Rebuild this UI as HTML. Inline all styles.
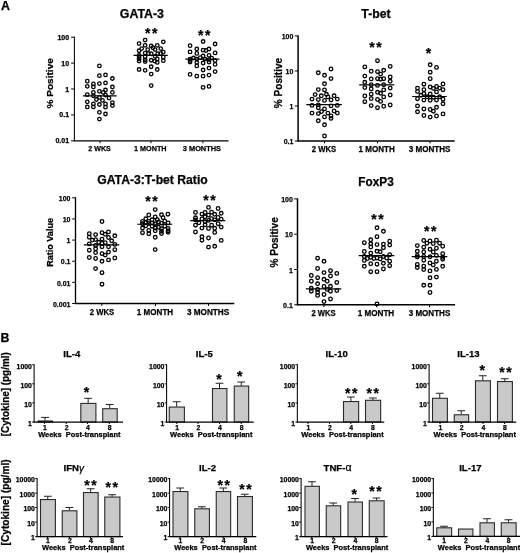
<!DOCTYPE html>
<html lang="en"><head><meta charset="utf-8"><title>Figure</title>
<style>
html,body{margin:0;padding:0;background:#fff;}
body{width:520px;height:553px;overflow:hidden;}
svg{display:block;}
svg text{font-family:"Liberation Sans",sans-serif;fill:#000;stroke:#000;stroke-width:0.25px;}
svg circle{fill:none;stroke:#000;stroke-width:1.3;}
</style></head><body>
<svg width="520" height="553" viewBox="0 0 520 553">
<rect width="520" height="553" fill="#ffffff"/>
<line x1="74.4" y1="36.7" x2="74.4" y2="141.3" stroke="#000" stroke-width="1.05"/>
<line x1="73.9" y1="140.8" x2="228.5" y2="140.8" stroke="#000" stroke-width="1.15"/>
<line x1="71.1" y1="37.2" x2="74.4" y2="37.2" stroke="#000" stroke-width="1.0"/>
<text x="69.1" y="39.7" font-size="7" text-anchor="end" font-weight="bold">100</text>
<line x1="71.1" y1="63.1" x2="74.4" y2="63.1" stroke="#000" stroke-width="1.0"/>
<text x="69.1" y="65.6" font-size="7" text-anchor="end" font-weight="bold">10</text>
<line x1="71.1" y1="89.0" x2="74.4" y2="89.0" stroke="#000" stroke-width="1.0"/>
<text x="69.1" y="91.5" font-size="7" text-anchor="end" font-weight="bold">1</text>
<line x1="71.1" y1="114.9" x2="74.4" y2="114.9" stroke="#000" stroke-width="1.0"/>
<text x="69.1" y="117.4" font-size="7" text-anchor="end" font-weight="bold">0.1</text>
<line x1="71.1" y1="140.8" x2="74.4" y2="140.8" stroke="#000" stroke-width="1.0"/>
<text x="69.1" y="143.3" font-size="7" text-anchor="end" font-weight="bold">0.01</text>
<line x1="100.1" y1="140.8" x2="100.1" y2="143.2" stroke="#000" stroke-width="1.0"/>
<text x="99.6" y="150.9" font-size="7.9" text-anchor="middle" font-weight="bold" textLength="22.5" lengthAdjust="spacingAndGlyphs">2 WKS</text>
<line x1="151" y1="140.8" x2="151" y2="143.2" stroke="#000" stroke-width="1.0"/>
<text x="150.3" y="150.9" font-size="7.9" text-anchor="middle" font-weight="bold" textLength="32.6" lengthAdjust="spacingAndGlyphs">1 MONTH</text>
<line x1="202.9" y1="140.8" x2="202.9" y2="143.2" stroke="#000" stroke-width="1.0"/>
<text x="201.9" y="150.9" font-size="7.9" text-anchor="middle" font-weight="bold" textLength="38.1" lengthAdjust="spacingAndGlyphs">3 MONTHS</text>
<text x="141.9" y="18.3" font-size="12" text-anchor="middle" font-weight="bold" textLength="44.2" lengthAdjust="spacingAndGlyphs">GATA-3</text>
<text x="53.1" y="83.3" font-size="9.8" text-anchor="middle" font-weight="bold" transform="rotate(-90 53.1 83.3)" textLength="50.3" lengthAdjust="spacingAndGlyphs">% Positive</text>
<text x="152.1" y="38.3" font-size="14" text-anchor="middle" font-weight="bold" letter-spacing="1.6">**</text>
<text x="205.1" y="40.4" font-size="14" text-anchor="middle" font-weight="bold" letter-spacing="1.6">**</text>
<line x1="82.9" y1="95.8" x2="116.7" y2="95.8" stroke="#000" stroke-width="1.15"/>
<line x1="133.5" y1="55.3" x2="167.8" y2="55.3" stroke="#000" stroke-width="1.15"/>
<line x1="185.3" y1="59.1" x2="219.4" y2="59.1" stroke="#000" stroke-width="1.15"/>
<g style="stroke-width:1.1;stroke:#1c1c1c">
<circle cx="99.4" cy="65.9" r="1.75"/>
<circle cx="99.4" cy="75.7" r="1.75"/>
<circle cx="105.5" cy="74.9" r="1.75"/>
<circle cx="112.4" cy="78.5" r="1.75"/>
<circle cx="87.3" cy="81.2" r="1.75"/>
<circle cx="93.4" cy="83.9" r="1.75"/>
<circle cx="99.4" cy="83.6" r="1.75"/>
<circle cx="105.5" cy="82.9" r="1.75"/>
<circle cx="87.3" cy="86.3" r="1.75"/>
<circle cx="93.4" cy="86.9" r="1.75"/>
<circle cx="112.4" cy="87" r="1.75"/>
<circle cx="105.5" cy="90" r="1.75"/>
<circle cx="99.4" cy="91.3" r="1.75"/>
<circle cx="93.4" cy="92.4" r="1.75"/>
<circle cx="103.2" cy="92.4" r="1.75"/>
<circle cx="112.4" cy="92.4" r="1.75"/>
<circle cx="87.3" cy="94.7" r="1.75"/>
<circle cx="93.4" cy="95.8" r="1.75"/>
<circle cx="105.5" cy="95" r="1.75"/>
<circle cx="99.4" cy="97.4" r="1.75"/>
<circle cx="109" cy="98.1" r="1.75"/>
<circle cx="96.4" cy="99.5" r="1.75"/>
<circle cx="102.5" cy="100.4" r="1.75"/>
<circle cx="87.3" cy="101.8" r="1.75"/>
<circle cx="112.4" cy="102.6" r="1.75"/>
<circle cx="93.4" cy="103.9" r="1.75"/>
<circle cx="105.5" cy="103.9" r="1.75"/>
<circle cx="99.4" cy="104.5" r="1.75"/>
<circle cx="87.3" cy="106.9" r="1.75"/>
<circle cx="93.4" cy="106.9" r="1.75"/>
<circle cx="105.5" cy="107.2" r="1.75"/>
<circle cx="112.4" cy="105.6" r="1.75"/>
<circle cx="99.4" cy="112.3" r="1.75"/>
<circle cx="105.5" cy="114" r="1.75"/>
<circle cx="99.4" cy="119.1" r="1.75"/>
<circle cx="145.14" cy="40.09" r="1.75"/>
<circle cx="139.08" cy="43.55" r="1.75"/>
<circle cx="163.3" cy="41.82" r="1.75"/>
<circle cx="145.14" cy="45.28" r="1.75"/>
<circle cx="151.19" cy="45.97" r="1.75"/>
<circle cx="157.25" cy="45.28" r="1.75"/>
<circle cx="141.68" cy="48.57" r="1.75"/>
<circle cx="152.92" cy="47.7" r="1.75"/>
<circle cx="160.71" cy="48.57" r="1.75"/>
<circle cx="147.73" cy="49.6" r="1.75"/>
<circle cx="155.09" cy="49.6" r="1.75"/>
<circle cx="139.08" cy="50.73" r="1.75"/>
<circle cx="163.3" cy="52.03" r="1.75"/>
<circle cx="145.14" cy="53.06" r="1.75"/>
<circle cx="148.17" cy="53.58" r="1.75"/>
<circle cx="151.19" cy="53.76" r="1.75"/>
<circle cx="157.68" cy="53.76" r="1.75"/>
<circle cx="160.71" cy="53.58" r="1.75"/>
<circle cx="139.08" cy="55.49" r="1.75"/>
<circle cx="139.08" cy="57.22" r="1.75"/>
<circle cx="139.08" cy="58.95" r="1.75"/>
<circle cx="139.08" cy="61.11" r="1.75"/>
<circle cx="145.14" cy="56.78" r="1.75"/>
<circle cx="145.14" cy="59.81" r="1.75"/>
<circle cx="145.14" cy="61.54" r="1.75"/>
<circle cx="151.19" cy="60.24" r="1.75"/>
<circle cx="155.09" cy="56.35" r="1.75"/>
<circle cx="157.25" cy="58.95" r="1.75"/>
<circle cx="157.25" cy="62.41" r="1.75"/>
<circle cx="163.3" cy="57.22" r="1.75"/>
<circle cx="163.3" cy="60.68" r="1.75"/>
<circle cx="154.65" cy="61.11" r="1.75"/>
<circle cx="151.19" cy="66.73" r="1.75"/>
<circle cx="139.08" cy="69.5" r="1.75"/>
<circle cx="145.14" cy="70.37" r="1.75"/>
<circle cx="157.25" cy="69.5" r="1.75"/>
<circle cx="151.19" cy="74.09" r="1.75"/>
<circle cx="151.2" cy="85.6" r="1.75"/>
<circle cx="203.1" cy="41.5" r="1.75"/>
<circle cx="215.1" cy="44" r="1.75"/>
<circle cx="190.1" cy="45.7" r="1.75"/>
<circle cx="196.8" cy="49" r="1.75"/>
<circle cx="203.1" cy="50.2" r="1.75"/>
<circle cx="206" cy="50.5" r="1.75"/>
<circle cx="209" cy="49" r="1.75"/>
<circle cx="190.1" cy="51.9" r="1.75"/>
<circle cx="215.1" cy="52.9" r="1.75"/>
<circle cx="196.8" cy="53.4" r="1.75"/>
<circle cx="209" cy="55.3" r="1.75"/>
<circle cx="203.1" cy="56" r="1.75"/>
<circle cx="193.5" cy="58" r="1.75"/>
<circle cx="200.2" cy="57.7" r="1.75"/>
<circle cx="211.7" cy="58.2" r="1.75"/>
<circle cx="190.1" cy="59.1" r="1.75"/>
<circle cx="190.1" cy="60.6" r="1.75"/>
<circle cx="190.1" cy="62" r="1.75"/>
<circle cx="196.8" cy="59.1" r="1.75"/>
<circle cx="205" cy="59.1" r="1.75"/>
<circle cx="209" cy="59.6" r="1.75"/>
<circle cx="215.1" cy="60.6" r="1.75"/>
<circle cx="196.8" cy="62.5" r="1.75"/>
<circle cx="203.1" cy="63" r="1.75"/>
<circle cx="209" cy="62" r="1.75"/>
<circle cx="215.1" cy="64.4" r="1.75"/>
<circle cx="196.8" cy="65.9" r="1.75"/>
<circle cx="209" cy="68.1" r="1.75"/>
<circle cx="203.1" cy="70" r="1.75"/>
<circle cx="215.1" cy="71.6" r="1.75"/>
<circle cx="190.1" cy="74.4" r="1.75"/>
<circle cx="196.8" cy="76.2" r="1.75"/>
<circle cx="203.1" cy="76.2" r="1.75"/>
<circle cx="209" cy="75.1" r="1.75"/>
<circle cx="203.1" cy="87.4" r="1.75"/>
<circle cx="209" cy="86.4" r="1.75"/>
</g>
<line x1="298.1" y1="35.4" x2="298.1" y2="141.5" stroke="#000" stroke-width="1.5"/>
<line x1="297.6" y1="141" x2="454.7" y2="141" stroke="#000" stroke-width="1.6"/>
<line x1="294.8" y1="35.9" x2="298.1" y2="35.9" stroke="#000" stroke-width="1.0"/>
<text x="293.4" y="39.0" font-size="8.1" text-anchor="end" font-weight="bold" textLength="11.67" lengthAdjust="spacingAndGlyphs">100</text>
<line x1="294.8" y1="70.93" x2="298.1" y2="70.93" stroke="#000" stroke-width="1.0"/>
<text x="293.4" y="74.03" font-size="8.1" text-anchor="end" font-weight="bold" textLength="7.78" lengthAdjust="spacingAndGlyphs">10</text>
<line x1="294.8" y1="105.97" x2="298.1" y2="105.97" stroke="#000" stroke-width="1.0"/>
<text x="293.4" y="109.07" font-size="8.1" text-anchor="end" font-weight="bold" textLength="3.89" lengthAdjust="spacingAndGlyphs">1</text>
<line x1="294.8" y1="141.0" x2="298.1" y2="141.0" stroke="#000" stroke-width="1.0"/>
<text x="293.4" y="144.1" font-size="8.1" text-anchor="end" font-weight="bold" textLength="9.73" lengthAdjust="spacingAndGlyphs">0.1</text>
<line x1="324.5" y1="141" x2="324.5" y2="143.4" stroke="#000" stroke-width="1.0"/>
<text x="323.9" y="151.6" font-size="8.8" text-anchor="middle" font-weight="bold" textLength="24.3" lengthAdjust="spacingAndGlyphs">2 WKS</text>
<line x1="377.5" y1="141" x2="377.5" y2="143.4" stroke="#000" stroke-width="1.0"/>
<text x="376.7" y="151.6" font-size="8.8" text-anchor="middle" font-weight="bold" textLength="36.3" lengthAdjust="spacingAndGlyphs">1 MONTH</text>
<line x1="430.1" y1="141" x2="430.1" y2="143.4" stroke="#000" stroke-width="1.0"/>
<text x="429.6" y="151.6" font-size="8.8" text-anchor="middle" font-weight="bold" textLength="41.8" lengthAdjust="spacingAndGlyphs">3 MONTHS</text>
<text x="376" y="18.3" font-size="12" text-anchor="middle" font-weight="bold" textLength="29.3" lengthAdjust="spacingAndGlyphs">T-bet</text>
<text x="281.8" y="83" font-size="10.1" text-anchor="middle" font-weight="bold" transform="rotate(-90 281.8 83)" textLength="50.3" lengthAdjust="spacingAndGlyphs">% Positive</text>
<text x="376.3" y="52.3" font-size="14" text-anchor="middle" font-weight="bold" letter-spacing="1.6">**</text>
<text x="429.3" y="57.6" font-size="14" text-anchor="middle" font-weight="bold" letter-spacing="1.6">*</text>
<line x1="306.25" y1="104.6" x2="341.8" y2="104.6" stroke="#000" stroke-width="1.15"/>
<line x1="359.2" y1="84.9" x2="394.3" y2="84.9" stroke="#000" stroke-width="1.15"/>
<line x1="412.2" y1="96.5" x2="446.8" y2="96.5" stroke="#000" stroke-width="1.15"/>
<g>
<circle cx="331" cy="69" r="1.8"/>
<circle cx="318.3" cy="72.8" r="1.8"/>
<circle cx="324.5" cy="75.3" r="1.8"/>
<circle cx="331" cy="78.6" r="1.8"/>
<circle cx="324.5" cy="83.8" r="1.8"/>
<circle cx="318.3" cy="89.6" r="1.8"/>
<circle cx="324.5" cy="89.9" r="1.8"/>
<circle cx="315.1" cy="94.6" r="1.8"/>
<circle cx="321.3" cy="95.8" r="1.8"/>
<circle cx="326.4" cy="94.3" r="1.8"/>
<circle cx="334.1" cy="95.8" r="1.8"/>
<circle cx="327.9" cy="96.9" r="1.8"/>
<circle cx="312" cy="99.1" r="1.8"/>
<circle cx="318.3" cy="99.6" r="1.8"/>
<circle cx="324.5" cy="100.4" r="1.8"/>
<circle cx="331" cy="99.9" r="1.8"/>
<circle cx="337.3" cy="99.1" r="1.8"/>
<circle cx="312" cy="105.4" r="1.8"/>
<circle cx="318.3" cy="104.9" r="1.8"/>
<circle cx="331" cy="105.9" r="1.8"/>
<circle cx="337.3" cy="105.4" r="1.8"/>
<circle cx="318.3" cy="107.8" r="1.8"/>
<circle cx="324.5" cy="108.9" r="1.8"/>
<circle cx="321.6" cy="111.6" r="1.8"/>
<circle cx="334.1" cy="111" r="1.8"/>
<circle cx="312" cy="113.1" r="1.8"/>
<circle cx="318.3" cy="113.6" r="1.8"/>
<circle cx="327.9" cy="113.1" r="1.8"/>
<circle cx="337.3" cy="113.1" r="1.8"/>
<circle cx="324.5" cy="116.9" r="1.8"/>
<circle cx="331" cy="116" r="1.8"/>
<circle cx="331" cy="118.4" r="1.8"/>
<circle cx="318.3" cy="120.8" r="1.8"/>
<circle cx="324.5" cy="124.8" r="1.8"/>
<circle cx="324.5" cy="136" r="1.8"/>
<circle cx="377.5" cy="60.7" r="1.8"/>
<circle cx="364.8" cy="66.9" r="1.8"/>
<circle cx="390.2" cy="66.4" r="1.8"/>
<circle cx="371.2" cy="71.25" r="1.8"/>
<circle cx="377.5" cy="71.7" r="1.8"/>
<circle cx="383.7" cy="70.3" r="1.8"/>
<circle cx="380.6" cy="74.1" r="1.8"/>
<circle cx="364.8" cy="76.1" r="1.8"/>
<circle cx="390.2" cy="77" r="1.8"/>
<circle cx="371.2" cy="78.9" r="1.8"/>
<circle cx="377.5" cy="78.7" r="1.8"/>
<circle cx="380.6" cy="79.2" r="1.8"/>
<circle cx="383.7" cy="78.7" r="1.8"/>
<circle cx="390.2" cy="81.3" r="1.8"/>
<circle cx="364.8" cy="82.3" r="1.8"/>
<circle cx="371.2" cy="84.7" r="1.8"/>
<circle cx="377.5" cy="85.4" r="1.8"/>
<circle cx="383.7" cy="84.7" r="1.8"/>
<circle cx="364.8" cy="87.6" r="1.8"/>
<circle cx="390.2" cy="88.1" r="1.8"/>
<circle cx="371.2" cy="88.9" r="1.8"/>
<circle cx="383.7" cy="89.9" r="1.8"/>
<circle cx="377.5" cy="92.3" r="1.8"/>
<circle cx="380.6" cy="93.3" r="1.8"/>
<circle cx="371.2" cy="94.2" r="1.8"/>
<circle cx="390.2" cy="95" r="1.8"/>
<circle cx="364.8" cy="96" r="1.8"/>
<circle cx="383.7" cy="96.9" r="1.8"/>
<circle cx="371.2" cy="98.6" r="1.8"/>
<circle cx="377.5" cy="99.5" r="1.8"/>
<circle cx="380.6" cy="101.4" r="1.8"/>
<circle cx="364.8" cy="101.7" r="1.8"/>
<circle cx="390.2" cy="105" r="1.8"/>
<circle cx="371.2" cy="105.6" r="1.8"/>
<circle cx="383.7" cy="106.25" r="1.8"/>
<circle cx="377.5" cy="107.7" r="1.8"/>
<circle cx="430.2" cy="64.8" r="1.8"/>
<circle cx="436.5" cy="67.4" r="1.8"/>
<circle cx="430.2" cy="72.2" r="1.8"/>
<circle cx="430.2" cy="78.7" r="1.8"/>
<circle cx="423.9" cy="84.2" r="1.8"/>
<circle cx="443" cy="84" r="1.8"/>
<circle cx="430.2" cy="87" r="1.8"/>
<circle cx="436.5" cy="86.5" r="1.8"/>
<circle cx="433.4" cy="88.4" r="1.8"/>
<circle cx="439.6" cy="88.1" r="1.8"/>
<circle cx="417.5" cy="88.1" r="1.8"/>
<circle cx="423.9" cy="89.7" r="1.8"/>
<circle cx="443" cy="89.7" r="1.8"/>
<circle cx="417.5" cy="91.5" r="1.8"/>
<circle cx="436.5" cy="91.9" r="1.8"/>
<circle cx="423.9" cy="93.6" r="1.8"/>
<circle cx="430.2" cy="93.9" r="1.8"/>
<circle cx="420.9" cy="95.3" r="1.8"/>
<circle cx="427.1" cy="96.8" r="1.8"/>
<circle cx="433.4" cy="97.2" r="1.8"/>
<circle cx="439.6" cy="96.8" r="1.8"/>
<circle cx="417.5" cy="98.7" r="1.8"/>
<circle cx="423.9" cy="100.1" r="1.8"/>
<circle cx="430.2" cy="100.3" r="1.8"/>
<circle cx="436.5" cy="100.1" r="1.8"/>
<circle cx="443" cy="99.2" r="1.8"/>
<circle cx="443" cy="103.8" r="1.8"/>
<circle cx="417.5" cy="105.9" r="1.8"/>
<circle cx="436.5" cy="107.3" r="1.8"/>
<circle cx="423.9" cy="109" r="1.8"/>
<circle cx="430.2" cy="109.5" r="1.8"/>
<circle cx="433.4" cy="111.2" r="1.8"/>
<circle cx="417.5" cy="111.8" r="1.8"/>
<circle cx="443" cy="113.9" r="1.8"/>
<circle cx="423.9" cy="115.5" r="1.8"/>
<circle cx="436.5" cy="116" r="1.8"/>
<circle cx="430.2" cy="117.1" r="1.8"/>
</g>
<line x1="75.5" y1="197.3" x2="75.5" y2="304.0" stroke="#000" stroke-width="1.35"/>
<line x1="75.0" y1="303.5" x2="234.3" y2="303.5" stroke="#000" stroke-width="1.45"/>
<line x1="72.2" y1="197.8" x2="75.5" y2="197.8" stroke="#000" stroke-width="1.0"/>
<text x="70.5" y="201.0" font-size="8.1" text-anchor="end" font-weight="bold" textLength="11.67" lengthAdjust="spacingAndGlyphs">100</text>
<line x1="72.2" y1="218.94" x2="75.5" y2="218.94" stroke="#000" stroke-width="1.0"/>
<text x="70.5" y="222.14" font-size="8.1" text-anchor="end" font-weight="bold" textLength="7.78" lengthAdjust="spacingAndGlyphs">10</text>
<line x1="72.2" y1="240.08" x2="75.5" y2="240.08" stroke="#000" stroke-width="1.0"/>
<text x="70.5" y="243.28" font-size="8.1" text-anchor="end" font-weight="bold" textLength="3.89" lengthAdjust="spacingAndGlyphs">1</text>
<line x1="72.2" y1="261.22" x2="75.5" y2="261.22" stroke="#000" stroke-width="1.0"/>
<text x="70.5" y="264.42" font-size="8.1" text-anchor="end" font-weight="bold" textLength="9.73" lengthAdjust="spacingAndGlyphs">0.1</text>
<line x1="72.2" y1="282.36" x2="75.5" y2="282.36" stroke="#000" stroke-width="1.0"/>
<text x="70.5" y="285.56" font-size="8.1" text-anchor="end" font-weight="bold" textLength="13.62" lengthAdjust="spacingAndGlyphs">0.01</text>
<line x1="72.2" y1="303.5" x2="75.5" y2="303.5" stroke="#000" stroke-width="1.0"/>
<text x="70.5" y="306.7" font-size="8.1" text-anchor="end" font-weight="bold" textLength="17.51" lengthAdjust="spacingAndGlyphs">0.001</text>
<line x1="101.8" y1="303.5" x2="101.8" y2="305.9" stroke="#000" stroke-width="1.0"/>
<text x="101.9" y="314.6" font-size="8.8" text-anchor="middle" font-weight="bold" textLength="24.3" lengthAdjust="spacingAndGlyphs">2 WKS</text>
<line x1="155.5" y1="303.5" x2="155.5" y2="305.9" stroke="#000" stroke-width="1.0"/>
<text x="155" y="314.6" font-size="8.8" text-anchor="middle" font-weight="bold" textLength="36.3" lengthAdjust="spacingAndGlyphs">1 MONTH</text>
<line x1="208.5" y1="303.5" x2="208.5" y2="305.9" stroke="#000" stroke-width="1.0"/>
<text x="208.1" y="314.6" font-size="8.8" text-anchor="middle" font-weight="bold" textLength="42.2" lengthAdjust="spacingAndGlyphs">3 MONTHS</text>
<text x="152.5" y="183.5" font-size="12" text-anchor="middle" font-weight="bold" textLength="110.5" lengthAdjust="spacingAndGlyphs">GATA-3:T-bet Ratio</text>
<text x="52.8" y="242.4" font-size="9.2" text-anchor="middle" font-weight="bold" transform="rotate(-90 52.8 242.4)" textLength="48.7" lengthAdjust="spacingAndGlyphs">Ratio Value</text>
<text x="152.2" y="206.1" font-size="14" text-anchor="middle" font-weight="bold" letter-spacing="1.6">**</text>
<text x="210.3" y="204.8" font-size="14" text-anchor="middle" font-weight="bold" letter-spacing="1.6">**</text>
<line x1="83.8" y1="244.9" x2="119.3" y2="244.9" stroke="#000" stroke-width="1.15"/>
<line x1="137.2" y1="224.2" x2="172.3" y2="224.2" stroke="#000" stroke-width="1.15"/>
<line x1="190.2" y1="220.6" x2="225.3" y2="220.6" stroke="#000" stroke-width="1.15"/>
<g>
<circle cx="102" cy="221.5" r="1.8"/>
<circle cx="89.3" cy="233.7" r="1.8"/>
<circle cx="102" cy="232.7" r="1.8"/>
<circle cx="108.5" cy="231.9" r="1.8"/>
<circle cx="95.6" cy="234.6" r="1.8"/>
<circle cx="105.2" cy="234.3" r="1.8"/>
<circle cx="114.8" cy="235.8" r="1.8"/>
<circle cx="89.3" cy="237.2" r="1.8"/>
<circle cx="108.5" cy="237.5" r="1.8"/>
<circle cx="92.4" cy="240.1" r="1.8"/>
<circle cx="95.6" cy="239.6" r="1.8"/>
<circle cx="102" cy="239.1" r="1.8"/>
<circle cx="111.7" cy="240.8" r="1.8"/>
<circle cx="98.7" cy="242.3" r="1.8"/>
<circle cx="105.2" cy="242.7" r="1.8"/>
<circle cx="102" cy="243.5" r="1.8"/>
<circle cx="89.3" cy="243.9" r="1.8"/>
<circle cx="114.8" cy="244.4" r="1.8"/>
<circle cx="95.6" cy="245.4" r="1.8"/>
<circle cx="102" cy="246.8" r="1.8"/>
<circle cx="108.5" cy="246.8" r="1.8"/>
<circle cx="95.6" cy="248.75" r="1.8"/>
<circle cx="89.3" cy="250.2" r="1.8"/>
<circle cx="114.8" cy="249.7" r="1.8"/>
<circle cx="95.6" cy="252.6" r="1.8"/>
<circle cx="108.5" cy="252.1" r="1.8"/>
<circle cx="102" cy="253.6" r="1.8"/>
<circle cx="105.2" cy="255.1" r="1.8"/>
<circle cx="89.3" cy="257.5" r="1.8"/>
<circle cx="95.6" cy="258.5" r="1.8"/>
<circle cx="114.8" cy="258" r="1.8"/>
<circle cx="108.5" cy="259.9" r="1.8"/>
<circle cx="102" cy="261.3" r="1.8"/>
<circle cx="95.6" cy="268.6" r="1.8"/>
<circle cx="102" cy="272.7" r="1.8"/>
<circle cx="102" cy="284.2" r="1.8"/>
<circle cx="155.2" cy="209.6" r="1.8"/>
<circle cx="148.8" cy="215" r="1.8"/>
<circle cx="161.5" cy="214.8" r="1.8"/>
<circle cx="167.9" cy="214.2" r="1.8"/>
<circle cx="155.2" cy="216.9" r="1.8"/>
<circle cx="163.1" cy="217.7" r="1.8"/>
<circle cx="145.8" cy="218.8" r="1.8"/>
<circle cx="152.1" cy="219.8" r="1.8"/>
<circle cx="157.3" cy="219.6" r="1.8"/>
<circle cx="142.5" cy="221.5" r="1.8"/>
<circle cx="148.8" cy="221.5" r="1.8"/>
<circle cx="164.8" cy="221.2" r="1.8"/>
<circle cx="145.8" cy="222.7" r="1.8"/>
<circle cx="158.5" cy="221.9" r="1.8"/>
<circle cx="168.1" cy="222.9" r="1.8"/>
<circle cx="148.8" cy="223.5" r="1.8"/>
<circle cx="152.1" cy="223.1" r="1.8"/>
<circle cx="155.2" cy="223.8" r="1.8"/>
<circle cx="161.5" cy="223.1" r="1.8"/>
<circle cx="142.5" cy="223.8" r="1.8"/>
<circle cx="145.8" cy="225.8" r="1.8"/>
<circle cx="152.1" cy="226.2" r="1.8"/>
<circle cx="158.5" cy="227.3" r="1.8"/>
<circle cx="164.8" cy="226.2" r="1.8"/>
<circle cx="142.5" cy="228.1" r="1.8"/>
<circle cx="155.2" cy="228.1" r="1.8"/>
<circle cx="161.5" cy="228.8" r="1.8"/>
<circle cx="168.1" cy="228.5" r="1.8"/>
<circle cx="148.8" cy="230.4" r="1.8"/>
<circle cx="155.2" cy="230.8" r="1.8"/>
<circle cx="161.5" cy="231.2" r="1.8"/>
<circle cx="168.1" cy="230.8" r="1.8"/>
<circle cx="142.5" cy="232.7" r="1.8"/>
<circle cx="148.8" cy="233.8" r="1.8"/>
<circle cx="161.5" cy="233.5" r="1.8"/>
<circle cx="168.1" cy="232.3" r="1.8"/>
<circle cx="155.2" cy="237.3" r="1.8"/>
<circle cx="155.2" cy="249.6" r="1.8"/>
<circle cx="208.5" cy="207.4" r="1.8"/>
<circle cx="218.1" cy="208.5" r="1.8"/>
<circle cx="195.5" cy="212.4" r="1.8"/>
<circle cx="205.1" cy="212.4" r="1.8"/>
<circle cx="211.6" cy="212.2" r="1.8"/>
<circle cx="221.2" cy="213.3" r="1.8"/>
<circle cx="201.9" cy="214.1" r="1.8"/>
<circle cx="214.7" cy="214.3" r="1.8"/>
<circle cx="208.5" cy="215.1" r="1.8"/>
<circle cx="205.1" cy="216.8" r="1.8"/>
<circle cx="195.5" cy="217.8" r="1.8"/>
<circle cx="218.1" cy="217.5" r="1.8"/>
<circle cx="211.6" cy="218.7" r="1.8"/>
<circle cx="201.9" cy="218.9" r="1.8"/>
<circle cx="221.2" cy="219.1" r="1.8"/>
<circle cx="195.5" cy="219.9" r="1.8"/>
<circle cx="214.7" cy="219.9" r="1.8"/>
<circle cx="208.5" cy="220.4" r="1.8"/>
<circle cx="205.1" cy="221.8" r="1.8"/>
<circle cx="198.9" cy="222.8" r="1.8"/>
<circle cx="218.1" cy="223.7" r="1.8"/>
<circle cx="195.5" cy="225.2" r="1.8"/>
<circle cx="205.1" cy="224.7" r="1.8"/>
<circle cx="211.6" cy="225.2" r="1.8"/>
<circle cx="221.2" cy="227.1" r="1.8"/>
<circle cx="201.9" cy="228.1" r="1.8"/>
<circle cx="208.5" cy="228.5" r="1.8"/>
<circle cx="214.7" cy="228.3" r="1.8"/>
<circle cx="195.5" cy="232" r="1.8"/>
<circle cx="214.7" cy="232.4" r="1.8"/>
<circle cx="201.9" cy="236.8" r="1.8"/>
<circle cx="208.5" cy="238" r="1.8"/>
<circle cx="201.9" cy="240.2" r="1.8"/>
<circle cx="221.2" cy="240.4" r="1.8"/>
<circle cx="208.5" cy="247.1" r="1.8"/>
<circle cx="214.7" cy="246.3" r="1.8"/>
</g>
<line x1="297.5" y1="198.4" x2="297.5" y2="305.3" stroke="#000" stroke-width="1.5"/>
<line x1="297.0" y1="304.8" x2="455.1" y2="304.8" stroke="#000" stroke-width="1.6"/>
<line x1="294.2" y1="198.9" x2="297.5" y2="198.9" stroke="#000" stroke-width="1.0"/>
<text x="292.8" y="202.0" font-size="8.1" text-anchor="end" font-weight="bold" textLength="11.67" lengthAdjust="spacingAndGlyphs">100</text>
<line x1="294.2" y1="234.2" x2="297.5" y2="234.2" stroke="#000" stroke-width="1.0"/>
<text x="292.8" y="237.3" font-size="8.1" text-anchor="end" font-weight="bold" textLength="7.78" lengthAdjust="spacingAndGlyphs">10</text>
<line x1="294.2" y1="269.5" x2="297.5" y2="269.5" stroke="#000" stroke-width="1.0"/>
<text x="292.8" y="272.6" font-size="8.1" text-anchor="end" font-weight="bold" textLength="3.89" lengthAdjust="spacingAndGlyphs">1</text>
<line x1="294.2" y1="304.8" x2="297.5" y2="304.8" stroke="#000" stroke-width="1.0"/>
<text x="292.8" y="307.9" font-size="8.1" text-anchor="end" font-weight="bold" textLength="9.73" lengthAdjust="spacingAndGlyphs">0.1</text>
<line x1="323.9" y1="304.8" x2="323.9" y2="307.2" stroke="#000" stroke-width="1.0"/>
<text x="323.6" y="315.7" font-size="8.8" text-anchor="middle" font-weight="bold" textLength="24.2" lengthAdjust="spacingAndGlyphs">2 WKS</text>
<line x1="376.5" y1="304.8" x2="376.5" y2="307.2" stroke="#000" stroke-width="1.0"/>
<text x="376" y="315.7" font-size="8.8" text-anchor="middle" font-weight="bold" textLength="36.4" lengthAdjust="spacingAndGlyphs">1 MONTH</text>
<line x1="429.5" y1="304.8" x2="429.5" y2="307.2" stroke="#000" stroke-width="1.0"/>
<text x="429.5" y="315.7" font-size="8.8" text-anchor="middle" font-weight="bold" textLength="41.6" lengthAdjust="spacingAndGlyphs">3 MONTHS</text>
<text x="376" y="186" font-size="12" text-anchor="middle" font-weight="bold" textLength="35.4" lengthAdjust="spacingAndGlyphs">FoxP3</text>
<text x="277.8" y="242.4" font-size="10.1" text-anchor="middle" font-weight="bold" transform="rotate(-90 277.8 242.4)" textLength="50.3" lengthAdjust="spacingAndGlyphs">% Positive</text>
<text x="378.3" y="224.2" font-size="14" text-anchor="middle" font-weight="bold" letter-spacing="1.6">**</text>
<text x="431.0" y="235.5" font-size="14" text-anchor="middle" font-weight="bold" letter-spacing="1.6">**</text>
<line x1="305.8" y1="288.9" x2="341.3" y2="288.9" stroke="#000" stroke-width="1.15"/>
<line x1="358.7" y1="255.65" x2="394.3" y2="255.65" stroke="#000" stroke-width="1.15"/>
<line x1="411.7" y1="256.6" x2="447.3" y2="256.6" stroke="#000" stroke-width="1.15"/>
<g>
<circle cx="317.6" cy="258.2" r="1.8"/>
<circle cx="324" cy="261.3" r="1.8"/>
<circle cx="317.6" cy="268.5" r="1.8"/>
<circle cx="330.5" cy="270.7" r="1.8"/>
<circle cx="324" cy="272.6" r="1.8"/>
<circle cx="336.8" cy="273.4" r="1.8"/>
<circle cx="311.3" cy="275.5" r="1.8"/>
<circle cx="330.5" cy="276" r="1.8"/>
<circle cx="317.6" cy="277.7" r="1.8"/>
<circle cx="324" cy="279.3" r="1.8"/>
<circle cx="327.2" cy="281.25" r="1.8"/>
<circle cx="311.3" cy="281.25" r="1.8"/>
<circle cx="336.8" cy="282.5" r="1.8"/>
<circle cx="317.6" cy="283.8" r="1.8"/>
<circle cx="324" cy="286.5" r="1.8"/>
<circle cx="330.5" cy="286.3" r="1.8"/>
<circle cx="311.3" cy="288.3" r="1.8"/>
<circle cx="317.6" cy="289.4" r="1.8"/>
<circle cx="327.2" cy="289.4" r="1.8"/>
<circle cx="311.3" cy="291.2" r="1.8"/>
<circle cx="330.5" cy="291.2" r="1.8"/>
<circle cx="336.8" cy="290.6" r="1.8"/>
<circle cx="317.6" cy="292.3" r="1.8"/>
<circle cx="324" cy="294.5" r="1.8"/>
<circle cx="317.6" cy="295.4" r="1.8"/>
<circle cx="330.5" cy="299" r="1.8"/>
<circle cx="324" cy="301.6" r="1.8"/>
<circle cx="377" cy="227.8" r="1.8"/>
<circle cx="383.4" cy="231.3" r="1.8"/>
<circle cx="377" cy="236.7" r="1.8"/>
<circle cx="370.75" cy="239.8" r="1.8"/>
<circle cx="389.7" cy="241.25" r="1.8"/>
<circle cx="364.3" cy="242.7" r="1.8"/>
<circle cx="370.75" cy="243.8" r="1.8"/>
<circle cx="377" cy="244.6" r="1.8"/>
<circle cx="383.4" cy="244.1" r="1.8"/>
<circle cx="389.7" cy="245.1" r="1.8"/>
<circle cx="370.75" cy="247" r="1.8"/>
<circle cx="383.4" cy="247.7" r="1.8"/>
<circle cx="364.3" cy="251.5" r="1.8"/>
<circle cx="377" cy="251.3" r="1.8"/>
<circle cx="380.2" cy="251.8" r="1.8"/>
<circle cx="370.75" cy="253.1" r="1.8"/>
<circle cx="389.7" cy="254.7" r="1.8"/>
<circle cx="364.3" cy="256.5" r="1.8"/>
<circle cx="367.4" cy="258.5" r="1.8"/>
<circle cx="370.75" cy="257.3" r="1.8"/>
<circle cx="373.9" cy="258.5" r="1.8"/>
<circle cx="377" cy="258" r="1.8"/>
<circle cx="380.2" cy="258.9" r="1.8"/>
<circle cx="383.4" cy="256.5" r="1.8"/>
<circle cx="386.6" cy="258" r="1.8"/>
<circle cx="364.3" cy="260.4" r="1.8"/>
<circle cx="389.7" cy="261.2" r="1.8"/>
<circle cx="370.75" cy="263.75" r="1.8"/>
<circle cx="377" cy="264.2" r="1.8"/>
<circle cx="383.4" cy="263.3" r="1.8"/>
<circle cx="364.3" cy="266.3" r="1.8"/>
<circle cx="389.7" cy="265.7" r="1.8"/>
<circle cx="383.4" cy="269" r="1.8"/>
<circle cx="370.75" cy="271.7" r="1.8"/>
<circle cx="377" cy="271.7" r="1.8"/>
<circle cx="377" cy="304" r="1.8"/>
<circle cx="423.75" cy="240.5" r="1.8"/>
<circle cx="430" cy="241" r="1.8"/>
<circle cx="436.4" cy="240.2" r="1.8"/>
<circle cx="426.9" cy="243.2" r="1.8"/>
<circle cx="433.2" cy="243.6" r="1.8"/>
<circle cx="439.6" cy="243.2" r="1.8"/>
<circle cx="417.3" cy="245.6" r="1.8"/>
<circle cx="442.7" cy="246.25" r="1.8"/>
<circle cx="423.75" cy="247.2" r="1.8"/>
<circle cx="436.4" cy="248.2" r="1.8"/>
<circle cx="430" cy="249.3" r="1.8"/>
<circle cx="417.3" cy="251.3" r="1.8"/>
<circle cx="423.75" cy="252" r="1.8"/>
<circle cx="433.2" cy="252" r="1.8"/>
<circle cx="442.7" cy="253.65" r="1.8"/>
<circle cx="417.3" cy="255.4" r="1.8"/>
<circle cx="436.4" cy="255.4" r="1.8"/>
<circle cx="417.3" cy="257.1" r="1.8"/>
<circle cx="423.75" cy="256.5" r="1.8"/>
<circle cx="430" cy="256.8" r="1.8"/>
<circle cx="442.7" cy="257.3" r="1.8"/>
<circle cx="423.75" cy="260.2" r="1.8"/>
<circle cx="442.7" cy="259.2" r="1.8"/>
<circle cx="436.4" cy="261.2" r="1.8"/>
<circle cx="430" cy="263" r="1.8"/>
<circle cx="417.3" cy="264.5" r="1.8"/>
<circle cx="433.2" cy="264.9" r="1.8"/>
<circle cx="423.75" cy="266.1" r="1.8"/>
<circle cx="442.7" cy="266.3" r="1.8"/>
<circle cx="417.3" cy="267.5" r="1.8"/>
<circle cx="423.75" cy="269.6" r="1.8"/>
<circle cx="436.4" cy="269.4" r="1.8"/>
<circle cx="430" cy="270.9" r="1.8"/>
<circle cx="430" cy="277.8" r="1.8"/>
<circle cx="436.4" cy="277.1" r="1.8"/>
<circle cx="423.75" cy="285.3" r="1.8"/>
<circle cx="430" cy="285.3" r="1.8"/>
<circle cx="430" cy="292.5" r="1.8"/>
</g>
<line x1="45.0" y1="417.4" x2="45.0" y2="420.7" stroke="#222" stroke-width="1.0"/>
<line x1="41.1" y1="417.4" x2="48.9" y2="417.4" stroke="#222" stroke-width="1.0"/>
<rect x="38.0" y="421.0" width="14.4" height="1.0" fill="#c9c9c9" stroke="#2a2a2a" stroke-width="1.1"/>
<line x1="88.15" y1="398.3" x2="88.15" y2="403.1" stroke="#222" stroke-width="1.0"/>
<line x1="84.25" y1="398.3" x2="92.05" y2="398.3" stroke="#222" stroke-width="1.0"/>
<rect x="80.8" y="403.4" width="15.1" height="18.6" fill="#c9c9c9" stroke="#2a2a2a" stroke-width="1.1"/>
<line x1="109.75" y1="404.5" x2="109.75" y2="408.4" stroke="#222" stroke-width="1.0"/>
<line x1="105.85" y1="404.5" x2="113.65" y2="404.5" stroke="#222" stroke-width="1.0"/>
<rect x="102.7" y="408.7" width="14.5" height="13.3" fill="#c9c9c9" stroke="#2a2a2a" stroke-width="1.1"/>
<line x1="34.1" y1="364.2" x2="34.1" y2="422.5" stroke="#000" stroke-width="1.05"/>
<line x1="33.6" y1="422" x2="123" y2="422" stroke="#000" stroke-width="1.25"/>
<line x1="32.1" y1="364.7" x2="34.1" y2="364.7" stroke="#000" stroke-width="0.9"/>
<text x="31.9" y="368.6" font-size="6.9" text-anchor="end" font-weight="bold">1000</text>
<line x1="32.1" y1="383.8" x2="34.1" y2="383.8" stroke="#000" stroke-width="0.9"/>
<text x="31.9" y="387.7" font-size="6.9" text-anchor="end" font-weight="bold">100</text>
<line x1="32.1" y1="402.9" x2="34.1" y2="402.9" stroke="#000" stroke-width="0.9"/>
<text x="31.9" y="406.8" font-size="6.9" text-anchor="end" font-weight="bold">10</text>
<line x1="32.1" y1="422.0" x2="34.1" y2="422.0" stroke="#000" stroke-width="0.9"/>
<text x="31.9" y="425.9" font-size="6.9" text-anchor="end" font-weight="bold">1</text>
<line x1="44.5" y1="422" x2="44.5" y2="424" stroke="#000" stroke-width="1.0"/>
<text x="44.9" y="429.8" font-size="6.8" text-anchor="middle" font-weight="bold">1</text>
<line x1="66.2" y1="422" x2="66.2" y2="424" stroke="#000" stroke-width="1.0"/>
<text x="66.6" y="429.8" font-size="6.8" text-anchor="middle" font-weight="bold">2</text>
<line x1="87.5" y1="422" x2="87.5" y2="424" stroke="#000" stroke-width="1.0"/>
<text x="87.9" y="429.8" font-size="6.8" text-anchor="middle" font-weight="bold">4</text>
<line x1="109.3" y1="422" x2="109.3" y2="424" stroke="#000" stroke-width="1.0"/>
<text x="109.7" y="429.8" font-size="6.8" text-anchor="middle" font-weight="bold">8</text>
<text x="79.3" y="436.8" font-size="7.4" text-anchor="middle" font-weight="bold" textLength="82.3" lengthAdjust="spacingAndGlyphs">Weeks  Post-transplant</text>
<text x="71.75" y="357" font-size="9.6" text-anchor="middle" font-weight="bold">IL-4</text>
<text x="87.35" y="397.1" font-size="14" text-anchor="middle" font-weight="bold" letter-spacing="1.6">*</text>
<line x1="176.62" y1="401.75" x2="176.62" y2="406.75" stroke="#222" stroke-width="1.0"/>
<line x1="172.72" y1="401.75" x2="180.53" y2="401.75" stroke="#222" stroke-width="1.0"/>
<rect x="169.25" y="407.05" width="15.15" height="14.95" fill="#c9c9c9" stroke="#2a2a2a" stroke-width="1.1"/>
<line x1="219.5" y1="383.25" x2="219.5" y2="388.25" stroke="#222" stroke-width="1.0"/>
<line x1="215.6" y1="383.25" x2="223.4" y2="383.25" stroke="#222" stroke-width="1.0"/>
<rect x="212.5" y="388.55" width="14.4" height="33.45" fill="#c9c9c9" stroke="#2a2a2a" stroke-width="1.1"/>
<line x1="241.25" y1="382" x2="241.25" y2="385.75" stroke="#222" stroke-width="1.0"/>
<line x1="237.35" y1="382" x2="245.15" y2="382" stroke="#222" stroke-width="1.0"/>
<rect x="234.25" y="386.05" width="14.4" height="35.95" fill="#c9c9c9" stroke="#2a2a2a" stroke-width="1.1"/>
<line x1="166.6" y1="364.2" x2="166.6" y2="422.5" stroke="#000" stroke-width="1.05"/>
<line x1="166.1" y1="422" x2="253.75" y2="422" stroke="#000" stroke-width="1.25"/>
<line x1="164.6" y1="364.7" x2="166.6" y2="364.7" stroke="#000" stroke-width="0.9"/>
<text x="164.4" y="368.6" font-size="6.9" text-anchor="end" font-weight="bold">1000</text>
<line x1="164.6" y1="383.8" x2="166.6" y2="383.8" stroke="#000" stroke-width="0.9"/>
<text x="164.4" y="387.7" font-size="6.9" text-anchor="end" font-weight="bold">100</text>
<line x1="164.6" y1="402.9" x2="166.6" y2="402.9" stroke="#000" stroke-width="0.9"/>
<text x="164.4" y="406.8" font-size="6.9" text-anchor="end" font-weight="bold">10</text>
<line x1="164.6" y1="422.0" x2="166.6" y2="422.0" stroke="#000" stroke-width="0.9"/>
<text x="164.4" y="425.9" font-size="6.9" text-anchor="end" font-weight="bold">1</text>
<line x1="176.75" y1="422" x2="176.75" y2="424" stroke="#000" stroke-width="1.0"/>
<text x="177.15" y="429.8" font-size="6.8" text-anchor="middle" font-weight="bold">1</text>
<line x1="198" y1="422" x2="198" y2="424" stroke="#000" stroke-width="1.0"/>
<text x="198.4" y="429.8" font-size="6.8" text-anchor="middle" font-weight="bold">2</text>
<line x1="219.5" y1="422" x2="219.5" y2="424" stroke="#000" stroke-width="1.0"/>
<text x="219.9" y="429.8" font-size="6.8" text-anchor="middle" font-weight="bold">4</text>
<line x1="241.25" y1="422" x2="241.25" y2="424" stroke="#000" stroke-width="1.0"/>
<text x="241.65" y="429.8" font-size="6.8" text-anchor="middle" font-weight="bold">8</text>
<text x="211.25" y="436.8" font-size="7.4" text-anchor="middle" font-weight="bold" textLength="82.3" lengthAdjust="spacingAndGlyphs">Weeks  Post-transplant</text>
<text x="204.25" y="357" font-size="9.6" text-anchor="middle" font-weight="bold">IL-5</text>
<text x="219.7" y="384.3" font-size="14" text-anchor="middle" font-weight="bold" letter-spacing="1.6">*</text>
<text x="240.6" y="380.7" font-size="14" text-anchor="middle" font-weight="bold" letter-spacing="1.6">*</text>
<line x1="350.88" y1="397" x2="350.88" y2="401.25" stroke="#222" stroke-width="1.0"/>
<line x1="346.98" y1="397" x2="354.77" y2="397" stroke="#222" stroke-width="1.0"/>
<rect x="343.5" y="401.55" width="15.15" height="20.45" fill="#c9c9c9" stroke="#2a2a2a" stroke-width="1.1"/>
<line x1="372.88" y1="398" x2="372.88" y2="400" stroke="#222" stroke-width="1.0"/>
<line x1="368.98" y1="398" x2="376.77" y2="398" stroke="#222" stroke-width="1.0"/>
<rect x="365.5" y="400.3" width="15.15" height="21.7" fill="#c9c9c9" stroke="#2a2a2a" stroke-width="1.1"/>
<line x1="297.35" y1="364.2" x2="297.35" y2="422.5" stroke="#000" stroke-width="1.05"/>
<line x1="296.85" y1="422" x2="384.25" y2="422" stroke="#000" stroke-width="1.25"/>
<line x1="295.35" y1="364.7" x2="297.35" y2="364.7" stroke="#000" stroke-width="0.9"/>
<text x="295.15" y="368.6" font-size="6.9" text-anchor="end" font-weight="bold">1000</text>
<line x1="295.35" y1="383.8" x2="297.35" y2="383.8" stroke="#000" stroke-width="0.9"/>
<text x="295.15" y="387.7" font-size="6.9" text-anchor="end" font-weight="bold">100</text>
<line x1="295.35" y1="402.9" x2="297.35" y2="402.9" stroke="#000" stroke-width="0.9"/>
<text x="295.15" y="406.8" font-size="6.9" text-anchor="end" font-weight="bold">10</text>
<line x1="295.35" y1="422.0" x2="297.35" y2="422.0" stroke="#000" stroke-width="0.9"/>
<text x="295.15" y="425.9" font-size="6.9" text-anchor="end" font-weight="bold">1</text>
<line x1="308" y1="422" x2="308" y2="424" stroke="#000" stroke-width="1.0"/>
<text x="308.4" y="429.8" font-size="6.8" text-anchor="middle" font-weight="bold">1</text>
<line x1="329.5" y1="422" x2="329.5" y2="424" stroke="#000" stroke-width="1.0"/>
<text x="329.9" y="429.8" font-size="6.8" text-anchor="middle" font-weight="bold">2</text>
<line x1="350.75" y1="422" x2="350.75" y2="424" stroke="#000" stroke-width="1.0"/>
<text x="351.15" y="429.8" font-size="6.8" text-anchor="middle" font-weight="bold">4</text>
<line x1="372.5" y1="422" x2="372.5" y2="424" stroke="#000" stroke-width="1.0"/>
<text x="372.9" y="429.8" font-size="6.8" text-anchor="middle" font-weight="bold">8</text>
<text x="342.5" y="436.8" font-size="7.4" text-anchor="middle" font-weight="bold" textLength="82.3" lengthAdjust="spacingAndGlyphs">Weeks  Post-transplant</text>
<text x="336.75" y="357" font-size="9.6" text-anchor="middle" font-weight="bold">IL-10</text>
<text x="352.05" y="398.2" font-size="14" text-anchor="middle" font-weight="bold" letter-spacing="1.6">**</text>
<text x="373.55" y="397.5" font-size="14" text-anchor="middle" font-weight="bold" letter-spacing="1.6">**</text>
<line x1="439.75" y1="393.25" x2="439.75" y2="398" stroke="#222" stroke-width="1.0"/>
<line x1="435.85" y1="393.25" x2="443.65" y2="393.25" stroke="#222" stroke-width="1.0"/>
<rect x="432.5" y="398.3" width="14.9" height="23.7" fill="#c9c9c9" stroke="#2a2a2a" stroke-width="1.1"/>
<line x1="461.25" y1="410.75" x2="461.25" y2="414.5" stroke="#222" stroke-width="1.0"/>
<line x1="457.35" y1="410.75" x2="465.15" y2="410.75" stroke="#222" stroke-width="1.0"/>
<rect x="454.25" y="414.8" width="14.4" height="7.2" fill="#c9c9c9" stroke="#2a2a2a" stroke-width="1.1"/>
<line x1="482.75" y1="375.75" x2="482.75" y2="380.5" stroke="#222" stroke-width="1.0"/>
<line x1="478.85" y1="375.75" x2="486.65" y2="375.75" stroke="#222" stroke-width="1.0"/>
<rect x="475.5" y="380.8" width="14.9" height="41.2" fill="#c9c9c9" stroke="#2a2a2a" stroke-width="1.1"/>
<line x1="504.75" y1="378.75" x2="504.75" y2="381.25" stroke="#222" stroke-width="1.0"/>
<line x1="500.85" y1="378.75" x2="508.65" y2="378.75" stroke="#222" stroke-width="1.0"/>
<rect x="497.5" y="381.55" width="14.9" height="40.45" fill="#c9c9c9" stroke="#2a2a2a" stroke-width="1.1"/>
<line x1="429.1" y1="364.2" x2="429.1" y2="422.5" stroke="#000" stroke-width="1.05"/>
<line x1="428.6" y1="422" x2="516.25" y2="422" stroke="#000" stroke-width="1.25"/>
<line x1="427.1" y1="364.7" x2="429.1" y2="364.7" stroke="#000" stroke-width="0.9"/>
<text x="426.9" y="368.6" font-size="6.9" text-anchor="end" font-weight="bold">1000</text>
<line x1="427.1" y1="383.8" x2="429.1" y2="383.8" stroke="#000" stroke-width="0.9"/>
<text x="426.9" y="387.7" font-size="6.9" text-anchor="end" font-weight="bold">100</text>
<line x1="427.1" y1="402.9" x2="429.1" y2="402.9" stroke="#000" stroke-width="0.9"/>
<text x="426.9" y="406.8" font-size="6.9" text-anchor="end" font-weight="bold">10</text>
<line x1="427.1" y1="422.0" x2="429.1" y2="422.0" stroke="#000" stroke-width="0.9"/>
<text x="426.9" y="425.9" font-size="6.9" text-anchor="end" font-weight="bold">1</text>
<line x1="440" y1="422" x2="440" y2="424" stroke="#000" stroke-width="1.0"/>
<text x="440.4" y="429.8" font-size="6.8" text-anchor="middle" font-weight="bold">1</text>
<line x1="461.25" y1="422" x2="461.25" y2="424" stroke="#000" stroke-width="1.0"/>
<text x="461.65" y="429.8" font-size="6.8" text-anchor="middle" font-weight="bold">2</text>
<line x1="483" y1="422" x2="483" y2="424" stroke="#000" stroke-width="1.0"/>
<text x="483.4" y="429.8" font-size="6.8" text-anchor="middle" font-weight="bold">4</text>
<line x1="504.5" y1="422" x2="504.5" y2="424" stroke="#000" stroke-width="1.0"/>
<text x="504.9" y="429.8" font-size="6.8" text-anchor="middle" font-weight="bold">8</text>
<text x="474.75" y="436.8" font-size="7.4" text-anchor="middle" font-weight="bold" textLength="82.3" lengthAdjust="spacingAndGlyphs">Weeks  Post-transplant</text>
<text x="468.5" y="357" font-size="9.6" text-anchor="middle" font-weight="bold">IL-13</text>
<text x="483" y="375.2" font-size="14" text-anchor="middle" font-weight="bold" letter-spacing="1.6">*</text>
<text x="506.3" y="377.0" font-size="14" text-anchor="middle" font-weight="bold" letter-spacing="1.6">**</text>
<line x1="47.75" y1="496.25" x2="47.75" y2="499.25" stroke="#222" stroke-width="1.0"/>
<line x1="43.85" y1="496.25" x2="51.65" y2="496.25" stroke="#222" stroke-width="1.0"/>
<rect x="40.5" y="499.55" width="14.9" height="37.05" fill="#c9c9c9" stroke="#2a2a2a" stroke-width="1.1"/>
<line x1="69.38" y1="507.5" x2="69.38" y2="510.5" stroke="#222" stroke-width="1.0"/>
<line x1="65.47" y1="507.5" x2="73.28" y2="507.5" stroke="#222" stroke-width="1.0"/>
<rect x="62.25" y="510.8" width="14.65" height="25.8" fill="#c9c9c9" stroke="#2a2a2a" stroke-width="1.1"/>
<line x1="90.62" y1="488.75" x2="90.62" y2="492.25" stroke="#222" stroke-width="1.0"/>
<line x1="86.72" y1="488.75" x2="94.53" y2="488.75" stroke="#222" stroke-width="1.0"/>
<rect x="83.5" y="492.55" width="14.65" height="44.05" fill="#c9c9c9" stroke="#2a2a2a" stroke-width="1.1"/>
<line x1="112.12" y1="494.75" x2="112.12" y2="496.75" stroke="#222" stroke-width="1.0"/>
<line x1="108.22" y1="494.75" x2="116.03" y2="494.75" stroke="#222" stroke-width="1.0"/>
<rect x="104.75" y="497.05" width="15.15" height="39.55" fill="#c9c9c9" stroke="#2a2a2a" stroke-width="1.1"/>
<line x1="37.1" y1="478.1" x2="37.1" y2="537.1" stroke="#000" stroke-width="1.05"/>
<line x1="36.6" y1="536.6" x2="123" y2="536.6" stroke="#000" stroke-width="1.25"/>
<line x1="35.1" y1="478.6" x2="37.1" y2="478.6" stroke="#000" stroke-width="0.9"/>
<text x="34.9" y="482.2" font-size="6.9" text-anchor="end" font-weight="bold">10000</text>
<line x1="35.1" y1="493.1" x2="37.1" y2="493.1" stroke="#000" stroke-width="0.9"/>
<text x="34.9" y="496.7" font-size="6.9" text-anchor="end" font-weight="bold">1000</text>
<line x1="35.1" y1="507.6" x2="37.1" y2="507.6" stroke="#000" stroke-width="0.9"/>
<text x="34.9" y="511.2" font-size="6.9" text-anchor="end" font-weight="bold">100</text>
<line x1="35.1" y1="522.1" x2="37.1" y2="522.1" stroke="#000" stroke-width="0.9"/>
<text x="34.9" y="525.7" font-size="6.9" text-anchor="end" font-weight="bold">10</text>
<line x1="35.1" y1="536.6" x2="37.1" y2="536.6" stroke="#000" stroke-width="0.9"/>
<text x="34.9" y="540.2" font-size="6.9" text-anchor="end" font-weight="bold">1</text>
<line x1="47.5" y1="536.6" x2="47.5" y2="538.6" stroke="#000" stroke-width="1.0"/>
<text x="47.9" y="543.4" font-size="6.8" text-anchor="middle" font-weight="bold">1</text>
<line x1="69.5" y1="536.6" x2="69.5" y2="538.6" stroke="#000" stroke-width="1.0"/>
<text x="69.9" y="543.4" font-size="6.8" text-anchor="middle" font-weight="bold">2</text>
<line x1="90.5" y1="536.6" x2="90.5" y2="538.6" stroke="#000" stroke-width="1.0"/>
<text x="90.9" y="543.4" font-size="6.8" text-anchor="middle" font-weight="bold">4</text>
<line x1="111.75" y1="536.6" x2="111.75" y2="538.6" stroke="#000" stroke-width="1.0"/>
<text x="112.15" y="543.4" font-size="6.8" text-anchor="middle" font-weight="bold">8</text>
<text x="83.2" y="550.4" font-size="7.4" text-anchor="middle" font-weight="bold" textLength="82.3" lengthAdjust="spacingAndGlyphs">Weeks  Post-transplant</text>
<text x="73.75" y="471" font-size="9.6" text-anchor="middle" font-weight="bold">IFN<tspan font-weight="normal" font-style="italic" font-size="10" dy="1">γ</tspan></text>
<text x="91.3" y="490.0" font-size="14" text-anchor="middle" font-weight="bold" letter-spacing="1.6">**</text>
<text x="112.55" y="492.0" font-size="14" text-anchor="middle" font-weight="bold" letter-spacing="1.6">**</text>
<line x1="180.25" y1="488" x2="180.25" y2="491.25" stroke="#222" stroke-width="1.0"/>
<line x1="176.35" y1="488" x2="184.15" y2="488" stroke="#222" stroke-width="1.0"/>
<rect x="173.0" y="491.55" width="14.9" height="45.05" fill="#c9c9c9" stroke="#2a2a2a" stroke-width="1.1"/>
<line x1="201.88" y1="506.75" x2="201.88" y2="508.5" stroke="#222" stroke-width="1.0"/>
<line x1="197.97" y1="506.75" x2="205.78" y2="506.75" stroke="#222" stroke-width="1.0"/>
<rect x="194.75" y="508.8" width="14.65" height="27.8" fill="#c9c9c9" stroke="#2a2a2a" stroke-width="1.1"/>
<line x1="223.25" y1="488" x2="223.25" y2="491.25" stroke="#222" stroke-width="1.0"/>
<line x1="219.35" y1="488" x2="227.15" y2="488" stroke="#222" stroke-width="1.0"/>
<rect x="216.25" y="491.55" width="14.4" height="45.05" fill="#c9c9c9" stroke="#2a2a2a" stroke-width="1.1"/>
<line x1="244.75" y1="494.25" x2="244.75" y2="496.25" stroke="#222" stroke-width="1.0"/>
<line x1="240.85" y1="494.25" x2="248.65" y2="494.25" stroke="#222" stroke-width="1.0"/>
<rect x="237.5" y="496.55" width="14.9" height="40.05" fill="#c9c9c9" stroke="#2a2a2a" stroke-width="1.1"/>
<line x1="169.6" y1="478.1" x2="169.6" y2="537.1" stroke="#000" stroke-width="1.05"/>
<line x1="169.1" y1="536.6" x2="256.25" y2="536.6" stroke="#000" stroke-width="1.25"/>
<line x1="167.6" y1="478.6" x2="169.6" y2="478.6" stroke="#000" stroke-width="0.9"/>
<text x="167.4" y="482.2" font-size="6.9" text-anchor="end" font-weight="bold">10000</text>
<line x1="167.6" y1="493.1" x2="169.6" y2="493.1" stroke="#000" stroke-width="0.9"/>
<text x="167.4" y="496.7" font-size="6.9" text-anchor="end" font-weight="bold">1000</text>
<line x1="167.6" y1="507.6" x2="169.6" y2="507.6" stroke="#000" stroke-width="0.9"/>
<text x="167.4" y="511.2" font-size="6.9" text-anchor="end" font-weight="bold">100</text>
<line x1="167.6" y1="522.1" x2="169.6" y2="522.1" stroke="#000" stroke-width="0.9"/>
<text x="167.4" y="525.7" font-size="6.9" text-anchor="end" font-weight="bold">10</text>
<line x1="167.6" y1="536.6" x2="169.6" y2="536.6" stroke="#000" stroke-width="0.9"/>
<text x="167.4" y="540.2" font-size="6.9" text-anchor="end" font-weight="bold">1</text>
<line x1="180" y1="536.6" x2="180" y2="538.6" stroke="#000" stroke-width="1.0"/>
<text x="180.4" y="543.4" font-size="6.8" text-anchor="middle" font-weight="bold">1</text>
<line x1="201.75" y1="536.6" x2="201.75" y2="538.6" stroke="#000" stroke-width="1.0"/>
<text x="202.15" y="543.4" font-size="6.8" text-anchor="middle" font-weight="bold">2</text>
<line x1="223.25" y1="536.6" x2="223.25" y2="538.6" stroke="#000" stroke-width="1.0"/>
<text x="223.65" y="543.4" font-size="6.8" text-anchor="middle" font-weight="bold">4</text>
<line x1="245" y1="536.6" x2="245" y2="538.6" stroke="#000" stroke-width="1.0"/>
<text x="245.4" y="543.4" font-size="6.8" text-anchor="middle" font-weight="bold">8</text>
<text x="215.4" y="550.4" font-size="7.4" text-anchor="middle" font-weight="bold" textLength="82.3" lengthAdjust="spacingAndGlyphs">Weeks  Post-transplant</text>
<text x="207.5" y="471" font-size="9.6" text-anchor="middle" font-weight="bold">IL-2</text>
<text x="224.55" y="489.5" font-size="14" text-anchor="middle" font-weight="bold" letter-spacing="1.6">**</text>
<text x="246.3" y="494.2" font-size="14" text-anchor="middle" font-weight="bold" letter-spacing="1.6">**</text>
<line x1="312.0" y1="481.75" x2="312.0" y2="486" stroke="#222" stroke-width="1.0"/>
<line x1="308.1" y1="481.75" x2="315.9" y2="481.75" stroke="#222" stroke-width="1.0"/>
<rect x="305.0" y="486.3" width="14.4" height="50.3" fill="#c9c9c9" stroke="#2a2a2a" stroke-width="1.1"/>
<line x1="333.25" y1="503" x2="333.25" y2="505.5" stroke="#222" stroke-width="1.0"/>
<line x1="329.35" y1="503" x2="337.15" y2="503" stroke="#222" stroke-width="1.0"/>
<rect x="326.25" y="505.8" width="14.4" height="30.8" fill="#c9c9c9" stroke="#2a2a2a" stroke-width="1.1"/>
<line x1="355.0" y1="498.5" x2="355.0" y2="501.75" stroke="#222" stroke-width="1.0"/>
<line x1="351.1" y1="498.5" x2="358.9" y2="498.5" stroke="#222" stroke-width="1.0"/>
<rect x="348.0" y="502.05" width="14.4" height="34.55" fill="#c9c9c9" stroke="#2a2a2a" stroke-width="1.1"/>
<line x1="376.5" y1="498" x2="376.5" y2="500.5" stroke="#222" stroke-width="1.0"/>
<line x1="372.6" y1="498" x2="380.4" y2="498" stroke="#222" stroke-width="1.0"/>
<rect x="369.25" y="500.8" width="14.9" height="35.8" fill="#c9c9c9" stroke="#2a2a2a" stroke-width="1.1"/>
<line x1="301.1" y1="478.1" x2="301.1" y2="537.1" stroke="#000" stroke-width="1.05"/>
<line x1="300.6" y1="536.6" x2="387.5" y2="536.6" stroke="#000" stroke-width="1.25"/>
<line x1="299.1" y1="478.6" x2="301.1" y2="478.6" stroke="#000" stroke-width="0.9"/>
<text x="298.9" y="482.2" font-size="6.9" text-anchor="end" font-weight="bold">10000</text>
<line x1="299.1" y1="493.1" x2="301.1" y2="493.1" stroke="#000" stroke-width="0.9"/>
<text x="298.9" y="496.7" font-size="6.9" text-anchor="end" font-weight="bold">1000</text>
<line x1="299.1" y1="507.6" x2="301.1" y2="507.6" stroke="#000" stroke-width="0.9"/>
<text x="298.9" y="511.2" font-size="6.9" text-anchor="end" font-weight="bold">100</text>
<line x1="299.1" y1="522.1" x2="301.1" y2="522.1" stroke="#000" stroke-width="0.9"/>
<text x="298.9" y="525.7" font-size="6.9" text-anchor="end" font-weight="bold">10</text>
<line x1="299.1" y1="536.6" x2="301.1" y2="536.6" stroke="#000" stroke-width="0.9"/>
<text x="298.9" y="540.2" font-size="6.9" text-anchor="end" font-weight="bold">1</text>
<line x1="311.75" y1="536.6" x2="311.75" y2="538.6" stroke="#000" stroke-width="1.0"/>
<text x="312.15" y="543.4" font-size="6.8" text-anchor="middle" font-weight="bold">1</text>
<line x1="333.25" y1="536.6" x2="333.25" y2="538.6" stroke="#000" stroke-width="1.0"/>
<text x="333.65" y="543.4" font-size="6.8" text-anchor="middle" font-weight="bold">2</text>
<line x1="355" y1="536.6" x2="355" y2="538.6" stroke="#000" stroke-width="1.0"/>
<text x="355.4" y="543.4" font-size="6.8" text-anchor="middle" font-weight="bold">4</text>
<line x1="376.25" y1="536.6" x2="376.25" y2="538.6" stroke="#000" stroke-width="1.0"/>
<text x="376.65" y="543.4" font-size="6.8" text-anchor="middle" font-weight="bold">8</text>
<text x="347.1" y="550.4" font-size="7.4" text-anchor="middle" font-weight="bold" textLength="82.3" lengthAdjust="spacingAndGlyphs">Weeks  Post-transplant</text>
<text x="337.5" y="471" font-size="9.6" text-anchor="middle" font-weight="bold">TNF-<tspan font-weight="normal" font-size="10.5">α</tspan></text>
<text x="355" y="499.2" font-size="14" text-anchor="middle" font-weight="bold" letter-spacing="1.6">*</text>
<text x="376.3" y="496.2" font-size="14" text-anchor="middle" font-weight="bold" letter-spacing="1.6">**</text>
<line x1="444.0" y1="526.25" x2="444.0" y2="527.5" stroke="#222" stroke-width="1.0"/>
<line x1="440.1" y1="526.25" x2="447.9" y2="526.25" stroke="#222" stroke-width="1.0"/>
<rect x="436.75" y="527.8" width="14.9" height="8.6" fill="#c9c9c9" stroke="#2a2a2a" stroke-width="1.1"/>
<rect x="458.5" y="529.05" width="14.4" height="7.35" fill="#c9c9c9" stroke="#2a2a2a" stroke-width="1.1"/>
<line x1="487.0" y1="518.75" x2="487.0" y2="522.5" stroke="#222" stroke-width="1.0"/>
<line x1="483.1" y1="518.75" x2="490.9" y2="518.75" stroke="#222" stroke-width="1.0"/>
<rect x="480.0" y="522.8" width="14.4" height="13.6" fill="#c9c9c9" stroke="#2a2a2a" stroke-width="1.1"/>
<line x1="508.5" y1="519.75" x2="508.5" y2="522.5" stroke="#222" stroke-width="1.0"/>
<line x1="504.6" y1="519.75" x2="512.4" y2="519.75" stroke="#222" stroke-width="1.0"/>
<rect x="501.25" y="522.8" width="14.9" height="13.6" fill="#c9c9c9" stroke="#2a2a2a" stroke-width="1.1"/>
<line x1="433.35" y1="478.1" x2="433.35" y2="536.9" stroke="#000" stroke-width="1.05"/>
<line x1="432.85" y1="536.4" x2="520" y2="536.4" stroke="#000" stroke-width="1.25"/>
<line x1="431.35" y1="478.6" x2="433.35" y2="478.6" stroke="#000" stroke-width="0.9"/>
<text x="431.15" y="482.2" font-size="6.9" text-anchor="end" font-weight="bold">10000</text>
<line x1="431.35" y1="493.05" x2="433.35" y2="493.05" stroke="#000" stroke-width="0.9"/>
<text x="431.15" y="496.65" font-size="6.9" text-anchor="end" font-weight="bold">1000</text>
<line x1="431.35" y1="507.5" x2="433.35" y2="507.5" stroke="#000" stroke-width="0.9"/>
<text x="431.15" y="511.1" font-size="6.9" text-anchor="end" font-weight="bold">100</text>
<line x1="431.35" y1="521.95" x2="433.35" y2="521.95" stroke="#000" stroke-width="0.9"/>
<text x="431.15" y="525.55" font-size="6.9" text-anchor="end" font-weight="bold">10</text>
<line x1="431.35" y1="536.4" x2="433.35" y2="536.4" stroke="#000" stroke-width="0.9"/>
<text x="431.15" y="540.0" font-size="6.9" text-anchor="end" font-weight="bold">1</text>
<line x1="443.75" y1="536.4" x2="443.75" y2="538.4" stroke="#000" stroke-width="1.0"/>
<text x="444.15" y="543.2" font-size="6.8" text-anchor="middle" font-weight="bold">1</text>
<line x1="465.5" y1="536.4" x2="465.5" y2="538.4" stroke="#000" stroke-width="1.0"/>
<text x="465.9" y="543.2" font-size="6.8" text-anchor="middle" font-weight="bold">2</text>
<line x1="487" y1="536.4" x2="487" y2="538.4" stroke="#000" stroke-width="1.0"/>
<text x="487.4" y="543.2" font-size="6.8" text-anchor="middle" font-weight="bold">4</text>
<line x1="508.25" y1="536.4" x2="508.25" y2="538.4" stroke="#000" stroke-width="1.0"/>
<text x="508.65" y="543.2" font-size="6.8" text-anchor="middle" font-weight="bold">8</text>
<text x="479" y="550.2" font-size="7.4" text-anchor="middle" font-weight="bold" textLength="82.3" lengthAdjust="spacingAndGlyphs">Weeks  Post-transplant</text>
<text x="470.4" y="471" font-size="9.6" text-anchor="middle" font-weight="bold">IL-17</text>
<text x="1" y="9.6" font-size="12.3" text-anchor="start" font-weight="bold">A</text>
<text x="0.6" y="342.3" font-size="12.3" text-anchor="start" font-weight="bold">B</text>
<text x="8.9" y="394.3" font-size="10" text-anchor="middle" font-weight="bold" transform="rotate(-90 8.9 394.3)" textLength="84" lengthAdjust="spacingAndGlyphs">[Cytokine] (pg/ml)</text>
<text x="8.9" y="502.4" font-size="10" text-anchor="middle" font-weight="bold" transform="rotate(-90 8.9 502.4)" textLength="86" lengthAdjust="spacingAndGlyphs">[Cytokine] (pg/ml)</text>
</svg>
</body></html>
